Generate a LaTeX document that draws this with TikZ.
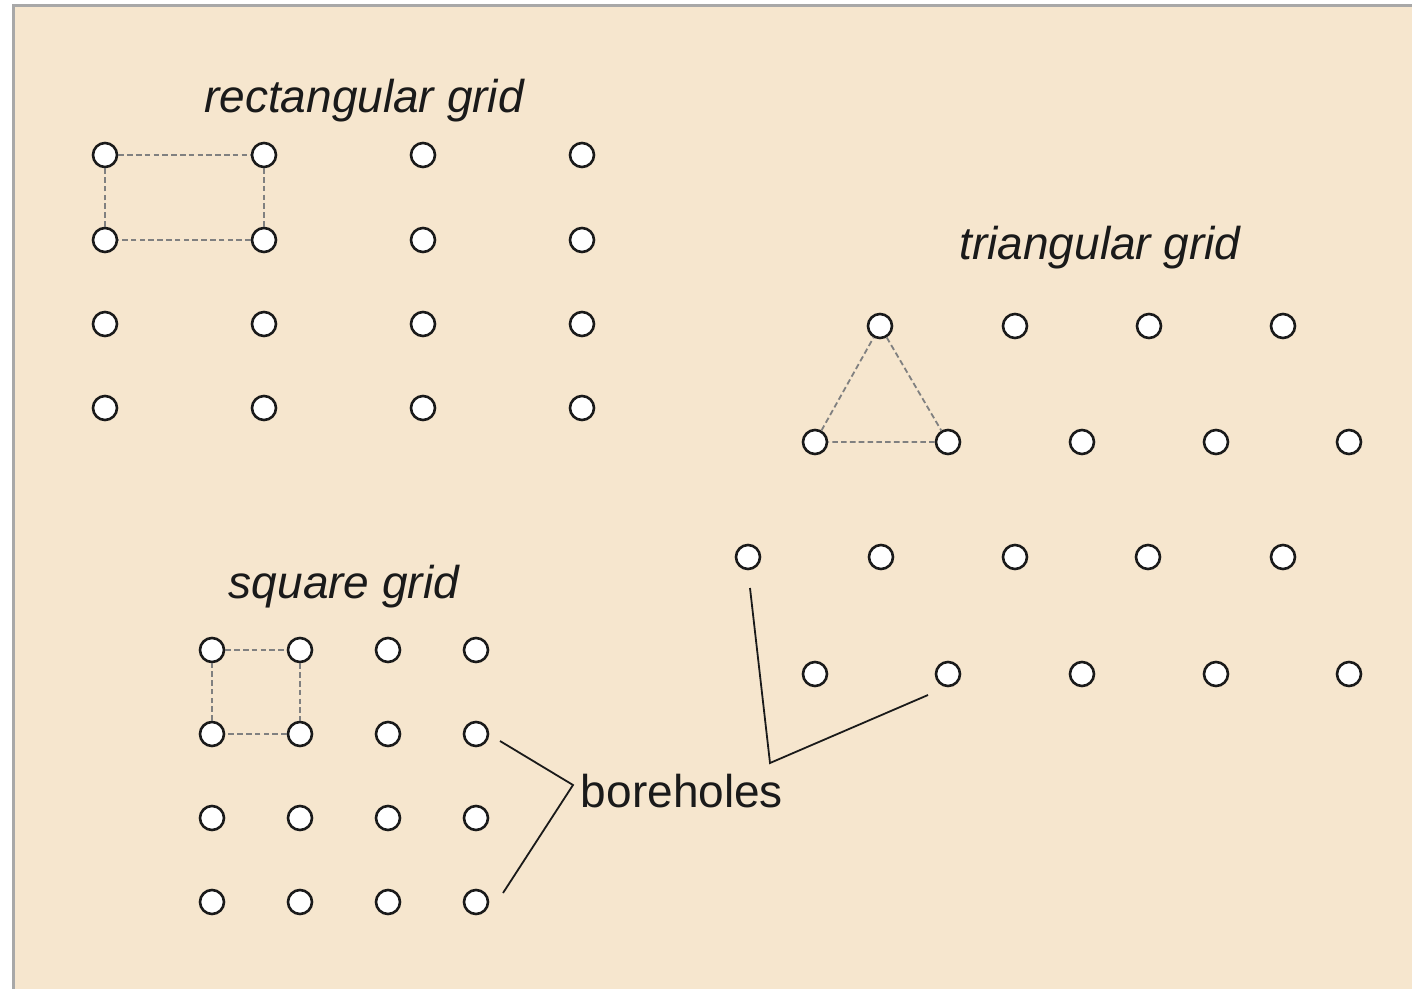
\documentclass[tikz,border=0pt]{standalone}
\usepackage{fontspec}
\setmainfont{Liberation Sans}
\usetikzlibrary{positioning}
\definecolor{paper}{HTML}{F6E6CE}
\definecolor{frame}{HTML}{A8A8A8}
\definecolor{ink}{HTML}{1A1A1A}

\begin{document}
\begin{tikzpicture}[
    x=0.5pt, y=-0.5pt,
    hole/.style={circle, draw=ink, fill=white, line width=1.3pt, minimum size=12pt, inner sep=0pt},
    spacing/.style={draw=gray, line width=0.9pt, dash pattern=on 2.8pt off 1.6pt},
    gridname/.style={anchor=base, inner sep=0pt, text=ink, font=\fontsize{23}{27}\selectfont\itshape},
    tag/.style={anchor=base, inner sep=0pt, text=ink, font=\fontsize{23}{27}\selectfont},
    leader/.style={draw=ink, line width=0.9pt}
]
\useasboundingbox (0,0) rectangle (1412,989);
\fill[white] (0,0) rectangle (1412,989);
\fill[paper] (13,6) rectangle (1412,989);
\draw[frame, line width=1.5pt] (13,989) -- (13,6) -- (1412,6);

% rectangular grid
\node[gridname] (rtitle) at (364,113) {rectangular grid};
\foreach \i/\x in {1/105,2/264,3/423,4/582}
  \foreach \j/\y in {1/155,2/240,3/324,4/408}
    \node[hole] (r\i\j) at (\x,\y) {};
\draw[spacing] (r11) -- (r21) -- (r22) -- (r12) -- (r11);

% square grid
\node[gridname] (stitle) at (344,598) {square grid};
\foreach \i/\x in {1/212,2/300,3/388,4/476}
  \foreach \j/\y in {1/650,2/734,3/818,4/902}
    \node[hole] (s\i\j) at (\x,\y) {};
\draw[spacing] (s11) -- (s21) -- (s22) -- (s12) -- (s11);

% triangular grid
\node[gridname] (ttitle) at (1100,260) {triangular grid};
\foreach \i/\x in {1/880,2/1015,3/1149,4/1283}
  \node[hole] (ta\i) at (\x,326) {};
\foreach \i/\x in {1/815,2/948,3/1082,4/1216,5/1349}
  \node[hole] (tb\i) at (\x,442) {};
\foreach \i/\x in {1/748,2/881,3/1015,4/1148,5/1283}
  \node[hole] (tc\i) at (\x,557) {};
\foreach \i/\x in {1/815,2/948,3/1082,4/1216,5/1349}
  \node[hole] (td\i) at (\x,674) {};
\draw[spacing] (ta1) -- (tb2) -- (tb1) -- (ta1);

% label
\node[tag] (bore) at (682,807) {boreholes};
\coordinate (sq-up) at (500,741);
\coordinate (sq-mid) at (573,785);
\coordinate (sq-down) at (503,893);
\coordinate (tri-up) at (750,588);
\coordinate (tri-mid) at (770,763);
\coordinate (tri-right) at (928,695);
\draw[leader] (sq-up) -- (sq-mid) -- (sq-down);
\draw[leader] (tri-up) -- (tri-mid) -- (tri-right);
\end{tikzpicture}
\end{document}
